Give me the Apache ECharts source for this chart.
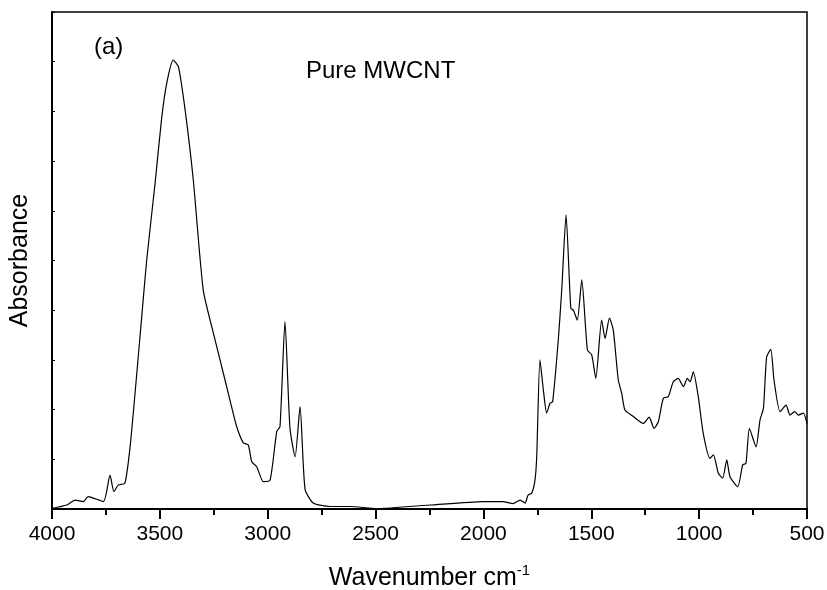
<!DOCTYPE html>
<html>
<head>
<meta charset="utf-8">
<script src="https://cdn.jsdelivr.net/npm/echarts@6/dist/echarts.min.js"></script>
<style>
    html, body { margin: 0; padding: 0; background: #ffffff; }
    #chart { width: 827px; height: 590px; }
</style>
</head>
<body>
<div id="chart"></div>
<script>

// wavenumber (cm-1) and absorbance
const wavenumbers = [
    4000, 3932, 3893, 3855, 3832, 3762, 3731, 3713, 3693, 3662,
    3638, 3615, 3584, 3561, 3522, 3491, 3468, 3438, 3414, 3383,
    3345, 3299, 3252, 3213, 3175, 3144, 3113, 3090, 3074, 3051,
    3020, 2989, 2958, 2943, 2920, 2897, 2873, 2850, 2827, 2789,
    2711, 2618, 2495, 2248, 2002, 1909, 1863, 1830, 1807, 1793,
    1776, 1761, 1753, 1738, 1722, 1707, 1691, 1679, 1653, 1637,
    1617, 1595, 1583, 1565, 1544, 1518, 1498, 1479, 1452, 1436,
    1416, 1398, 1375, 1359, 1344, 1305, 1259, 1232, 1209, 1189,
    1166, 1143, 1120, 1097, 1073, 1055, 1042, 1027, 1004, 981,
    950, 934, 911, 891, 872, 857, 821, 798, 783, 767,
    736, 718, 702, 687, 668, 653, 625, 597, 579, 556,
    540, 517, 500
];

const absorbance = [
    0.01, 0.08, 0.18, 0.15, 0.25, 0.15, 0.68, 0.35, 0.48, 0.52,
    1.25, 2.33, 3.87, 5.01, 6.56, 7.89, 8.57, 9.03, 8.90, 8.03,
    6.62, 4.41, 3.54, 2.86, 2.19, 1.66, 1.33, 1.29, 0.95, 0.85,
    0.55, 0.58, 1.56, 1.66, 3.77, 1.63, 1.05, 2.06, 0.40, 0.12,
    0.05, 0.05, 0.01, 0.08, 0.15, 0.15, 0.11, 0.18, 0.12, 0.28,
    0.32, 0.58, 1.05, 3.00, 2.39, 1.93, 2.13, 2.16, 3.40, 4.41,
    5.92, 4.04, 4.00, 3.80, 4.61, 3.20, 3.10, 2.63, 3.80, 3.43,
    3.84, 3.60, 2.60, 2.33, 1.99, 1.86, 1.72, 1.85, 1.62, 1.76,
    2.23, 2.26, 2.56, 2.63, 2.46, 2.63, 2.56, 2.76, 2.26, 1.52,
    1.02, 1.09, 0.72, 0.62, 0.99, 0.65, 0.45, 0.89, 0.92, 1.62,
    1.25, 1.79, 2.03, 3.06, 3.21, 2.60, 1.96, 2.09, 1.89, 1.96,
    1.89, 1.93, 1.72
];

const xTicks = [500, 1000, 1500, 2000, 2500, 3000, 3500, 4000];

const FONT = "Liberation Sans, Arial, sans-serif";

function buildSeries() {

    const points = [];

    for (let i = 0; i < wavenumbers.length; i++) {
        points.push([wavenumbers[i], absorbance[i]]);
    }

    return points;
}

const chart = echarts.init(document.getElementById("chart"), null, {
    renderer: "canvas"
});

chart.setOption({

    animation: false,
    backgroundColor: "#ffffff",

    grid: {
        left: 52,
        right: 20,
        top: 12,
        bottom: 81,
        outerBoundsMode: "none",
        containLabel: false,
        show: true,
        borderColor: "#000000",
        borderWidth: 1.5,
        backgroundColor: "transparent"
    },

    xAxis: {
        type: "value",
        inverse: true,
        min: xTicks[0],
        max: xTicks[xTicks.length - 1],
        interval: 500,
        name: "Wavenumber cm{sup|-1}",
        nameLocation: "middle",
        nameGap: 54,
        nameTextStyle: {
            color: "#000000",
            fontFamily: FONT,
            fontSize: 25,
            rich: {
                sup: {
                    fontFamily: FONT,
                    fontSize: 15,
                    verticalAlign: "bottom",
                    padding: [0, 0, 15, 0],
                    color: "#000000"
                }
            }
        },
        axisLine: {
            show: true,
            lineStyle: { color: "#000000", width: 2 }
        },
        axisTick: {
            show: true,
            inside: false,
            length: 10,
            lineStyle: { color: "#000000", width: 2 }
        },
        minorTick: {
            show: true,
            splitNumber: 2,
            length: 6,
            lineStyle: { color: "#000000", width: 2 }
        },
        axisLabel: {
            color: "#000000",
            fontFamily: FONT,
            fontSize: 21,
            margin: 15,
            formatter: value => String(value)
        },
        splitLine: { show: false }
    },

    yAxis: {
        type: "value",
        min: 0,
        max: 10,
        interval: 1,
        name: "Absorbance",
        nameLocation: "middle",
        nameGap: 19,
        nameTextStyle: {
            color: "#000000",
            fontFamily: FONT,
            fontSize: 25
        },
        axisLine: {
            show: true,
            lineStyle: { color: "#000000", width: 2 }
        },
        axisTick: {
            show: true,
            inside: true,
            length: 3,
            lineStyle: { color: "#000000", width: 1 }
        },
        axisLabel: { show: false },
        splitLine: { show: false }
    },

    graphic: [
        {
            type: "text",
            left: 94,
            top: 35,
            style: {
                text: "(a)",
                fontFamily: FONT,
                fontSize: 24,
                fill: "#000000"
            }
        },
        {
            type: "text",
            left: 306,
            top: 59,
            style: {
                text: "Pure MWCNT",
                fontFamily: FONT,
                fontSize: 24,
                fill: "#000000"
            }
        }
    ],

    series: [
        {
            name: "Pure MWCNT",
            type: "line",
            data: buildSeries(),
            showSymbol: false,
            smooth: 0.2,
            lineStyle: { color: "#000000", width: 1.2 }
        }
    ]
});

</script>
</body>
</html>
